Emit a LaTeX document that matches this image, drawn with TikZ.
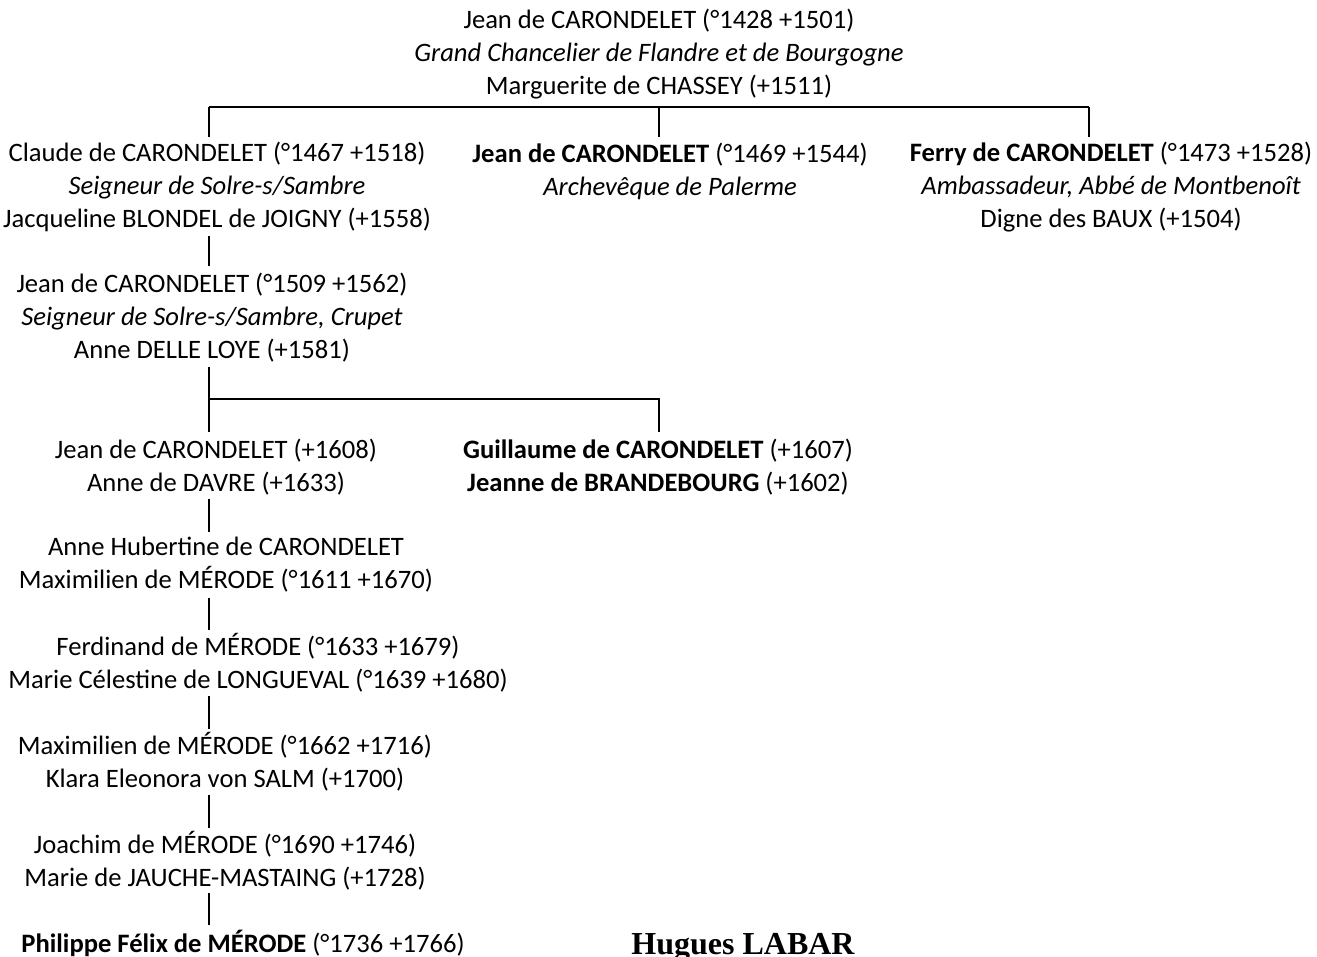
\documentclass[tikz,border=0pt]{standalone}
\usepackage{fontspec}
\setmainfont{Carlito}
\newfontfamily\labarfont{Liberation Serif}
\begin{document}
\begin{tikzpicture}[x=1pt,y=-1pt,
  person/.style={align=center, font=\fontsize{26.6}{33}\selectfont, inner sep=0pt},
  link/.style={line width=1.6pt}]
\useasboundingbox (0,0) rectangle (1317,956);
\fill[white] (0,0) rectangle (1317,956);
% people
\node[person] (top) at (659,54) {Jean de CARONDELET (°1428 +1501)\\\textit{Grand Chancelier de Flandre et de Bourgogne}\\Marguerite de CHASSEY (+1511)};
\node[person] (claude) at (217,187) {Claude de CARONDELET (°1467 +1518)\\\textit{Seigneur de Solre-s/Sambre}\\Jacqueline BLONDEL de JOIGNY (+1558)};
\node[person] (jeanA) at (670,171) {\textbf{Jean de CARONDELET} (°1469 +1544)\\\textit{Archevêque de Palerme}};
\node[person] (ferry) at (1111,187) {\textbf{Ferry de CARONDELET} (°1473 +1528)\\\textit{Ambassadeur, Abbé de Montbenoît}\\Digne des BAUX (+1504)};
\node[person] (jeanB) at (212,318) {Jean de CARONDELET (°1509 +1562)\\\textit{Seigneur de Solre-s/Sambre, Crupet}\\Anne DELLE LOYE (+1581)};
\node[person] (jeanC) at (216,467) {Jean de CARONDELET (+1608)\\Anne de DAVRE (+1633)};
\node[person] (guill) at (658,467) {\textbf{Guillaume de CARONDELET} (+1607)\\\textbf{Jeanne de BRANDEBOURG} (+1602)};
\node[person] (anneH) at (226,565) {Anne Hubertine de CARONDELET\\Maximilien de MÉRODE (°1611 +1670)};
\node[person] (ferd) at (258,663) {Ferdinand de MÉRODE (°1633 +1679)\\Marie Célestine de LONGUEVAL (°1639 +1680)};
\node[person] (maxB) at (225,762) {Maximilien de MÉRODE (°1662 +1716)\\Klara Eleonora von SALM (+1700)};
\node[person] (joach) at (225,861) {Joachim de MÉRODE (°1690 +1746)\\Marie de JAUCHE-MASTAING (+1728)};
\node[person, anchor=base] (phil) at (243,952) {\textbf{Philippe Félix de MÉRODE} (°1736 +1766)};
\node[inner sep=0pt, anchor=base, font=\labarfont\bfseries\fontsize{32}{36}\selectfont] (labar) at (743,954) {Hugues LABAR};
% junction coordinates
\coordinate (b1L) at (209,107); \coordinate (b1M) at (659,107); \coordinate (b1R) at (1089,107);
\coordinate (c1L) at (209,137); \coordinate (c1M) at (659,137); \coordinate (c1R) at (1089,137);
\coordinate (d1) at (209,236); \coordinate (d2) at (209,266);
\coordinate (e1) at (209,367); \coordinate (e2) at (209,399); \coordinate (e3) at (659,399);
\coordinate (e4) at (209,432); \coordinate (e5) at (659,432);
\coordinate (f1) at (209,499); \coordinate (f2) at (209,532);
\coordinate (g1) at (209,598); \coordinate (g2) at (209,630);
\coordinate (h1) at (209,696); \coordinate (h2) at (209,729);
\coordinate (i1) at (209,795); \coordinate (i2) at (209,828);
\coordinate (k1) at (209,893); \coordinate (k2) at (209,925);
% connectors
\draw[link] (b1L) -- (b1R);
\draw[link] (b1L) -- (c1L);
\draw[link] (b1M) -- (c1M);
\draw[link] (b1R) -- (c1R);
\draw[link] (d1) -- (d2);
\draw[link] (e1) -- (e4);
\draw[link] (e2) -- (e3) -- (e5);
\draw[link] (f1) -- (f2);
\draw[link] (g1) -- (g2);
\draw[link] (h1) -- (h2);
\draw[link] (i1) -- (i2);
\draw[link] (k1) -- (k2);
\end{tikzpicture}
\end{document}
